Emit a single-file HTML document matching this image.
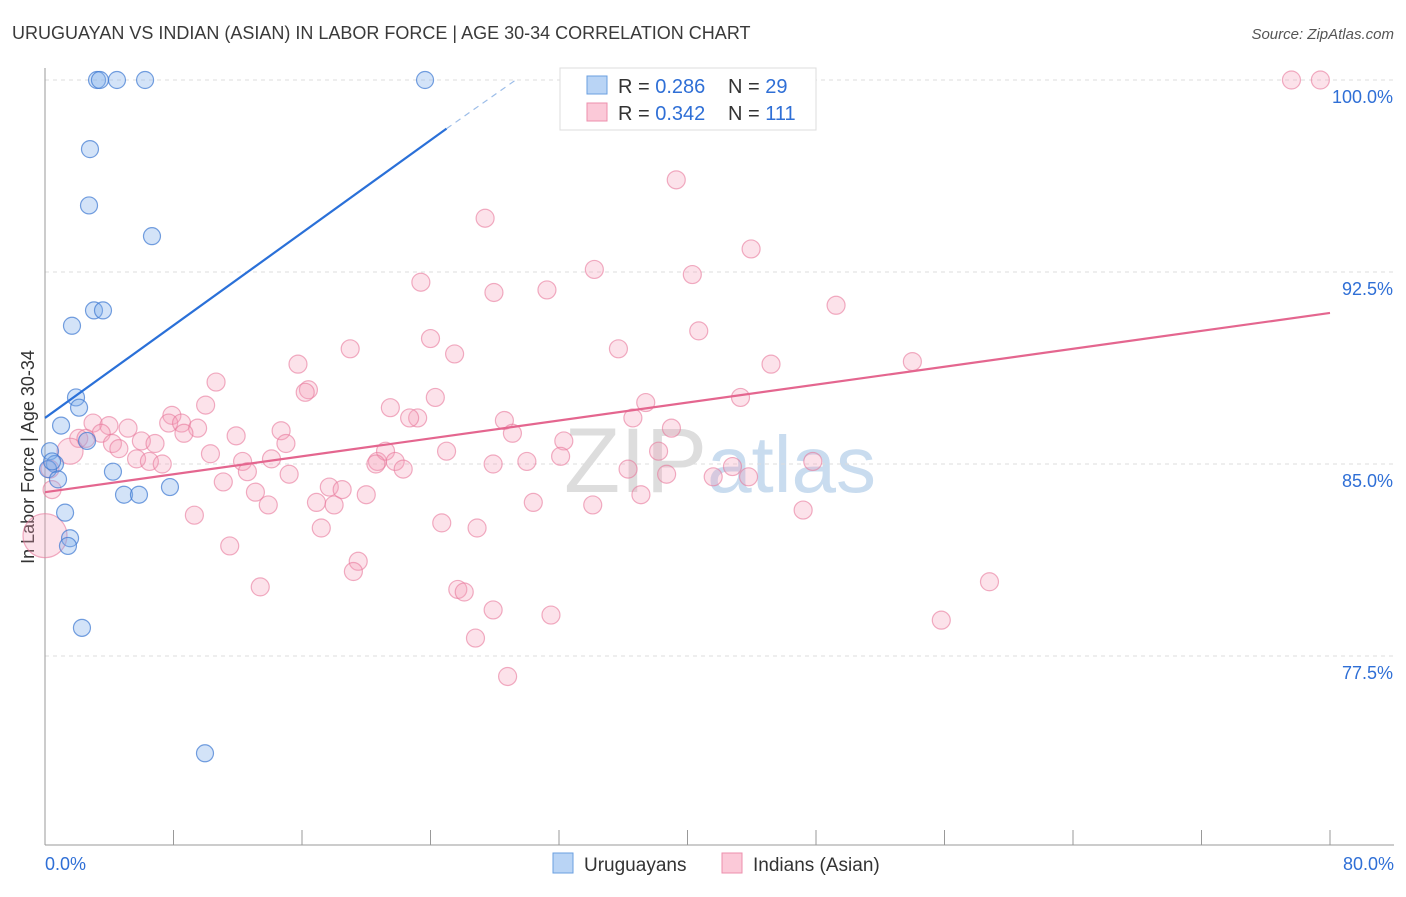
<!DOCTYPE html>
<html><head><meta charset="utf-8"><style>
body{margin:0;background:#fff;font-family:"Liberation Sans",sans-serif}
svg text{font-family:"Liberation Sans",sans-serif}
</style></head><body>
<svg id="c" width="1406" height="892" xmlns="http://www.w3.org/2000/svg">
<text x="12" y="39" font-size="18" fill="#3a3a3a">URUGUAYAN VS INDIAN (ASIAN) IN LABOR FORCE | AGE 30-34 CORRELATION CHART</text>
<text x="1394" y="39" font-size="15" fill="#555" text-anchor="end" font-style="italic">Source: ZipAtlas.com</text>
<text x="720" y="492" font-size="92" fill="#ddd" text-anchor="middle" font-family="Liberation Serif">ZIP<tspan fill="#c9dcef" font-family="Liberation Sans" font-size="80">atlas</tspan></text>
<text transform="translate(34,457) rotate(-90)" font-size="18" fill="#333" text-anchor="middle">In Labor Force | Age 30-34</text>
<g id="grid"></g><g id="axes"></g><g id="pink"></g><g id="blue"></g><g id="lines"></g>
<g>
<rect x="560" y="68" width="256" height="62" fill="#fff" stroke="#ddd"/>
<rect x="587" y="76" width="20" height="18" fill="#b9d4f5" stroke="#6a9fe0"/>
<rect x="587" y="103" width="20" height="18" fill="#fbc9d8" stroke="#ec8fad"/>
<text x="618" y="93" font-size="20" fill="#333">R = <tspan fill="#2f6fd6">0.286</tspan></text>
<text x="728" y="93" font-size="20" fill="#333">N = <tspan fill="#2f6fd6">29</tspan></text>
<text x="618" y="120" font-size="20" fill="#333">R = <tspan fill="#2f6fd6">0.342</tspan></text>
<text x="728" y="120" font-size="20" fill="#333">N = <tspan fill="#2f6fd6">111</tspan></text>
</g>
<g>
<rect x="553" y="853" width="20" height="20" fill="#b9d4f5" stroke="#6a9fe0"/>
<text x="584" y="871" font-size="19" fill="#333">Uruguayans</text>
<rect x="722" y="853" width="20" height="20" fill="#fbc9d8" stroke="#ec8fad"/>
<text x="753" y="871" font-size="19" fill="#333">Indians (Asian)</text>
</g>
</svg>
<script>
const xTicks=[0,8,16,24,32,40,48,56,64,72,80];
const yTicks=[77.5,85.0,92.5,100.0];
const blueX=[3.24,3.42,4.48,6.23,23.66,2.80,2.74,6.66,3.05,3.61,1.68,1.93,2.12,1.0,2.62,0.31,0.62,0.19,0.81,4.23,7.78,4.92,5.85,1.25,1.56,1.43,2.30,9.96,0.44];
const blueY=[100,100,100,100,100,97.3,95.1,93.9,91.0,91.0,90.4,87.6,87.2,86.5,85.9,85.5,85.0,84.8,84.4,84.7,84.1,83.8,83.8,83.1,82.1,81.8,78.6,73.7,85.1];
const pinkX=[77.6,79.4,46.9,39.3,27.4,43.96,34.2,40.3,23.4,27.95,31.25,49.25,40.7,24.0,19.0,25.5,35.7,15.75,45.2,54.0,10.65,16.4,16.2,24.3,43.3,10.0,37.4,21.5,7.9,23.2,22.7,28.6,36.6,2.99,3.98,5.17,7.7,8.5,9.5,14.7,39.0,29.1,2.1,3.5,8.65,11.9,1.56,2.55,6.0,6.85,4.2,4.6,15.0,32.3,10.3,25.0,38.2,32.1,5.7,6.5,12.3,14.1,20.7,21.2,21.8,30.0,7.3,20.6,22.3,27.9,47.8,42.8,12.6,15.2,36.3,38.7,41.6,43.8,11.1,17.7,18.5,13.1,20.0,16.9,37.1,30.4,13.9,18.0,34.1,47.2,9.3,24.7,17.2,26.9,11.5,19.5,19.2,13.4,25.7,26.1,58.8,27.9,31.5,55.8,26.8,28.8,0.31,0.44,0.0];
const pinkY=[100,100,100,96.1,94.6,93.4,92.6,92.4,92.1,91.7,91.8,91.2,90.2,89.9,89.5,89.3,89.5,88.9,88.9,89.0,88.2,87.9,87.8,87.6,87.6,87.3,87.4,87.2,86.9,86.8,86.8,86.7,86.8,86.6,86.5,86.4,86.6,86.6,86.4,86.3,86.4,86.2,86.0,86.2,86.2,86.1,85.5,86.0,85.9,85.8,85.8,85.6,85.8,85.9,85.4,85.5,85.5,85.3,85.2,85.1,85.1,85.2,85.1,85.5,85.1,85.1,85.0,85.0,84.8,85.0,85.1,84.9,84.7,84.6,84.8,84.6,84.5,84.5,84.3,84.1,84.0,83.9,83.8,83.5,83.8,83.5,83.4,83.4,83.4,83.2,83.0,82.7,82.5,82.5,81.8,81.2,80.8,80.2,80.1,80.0,80.4,79.3,79.1,78.9,78.2,76.7,84.8,84.0,82.2];
const pinkR=[];for(let i=0;i<pinkX.length;i++)pinkR.push(9);pinkR[46]=13;pinkR[108]=22;pinkR[109]=18;pinkR[110]=24;
const blueTrend=[0,86.8,25.0,98.1,29.3,100];
const pinkTrend=[0,83.9,80,90.9];
const X=v=>45+v/80*1285, Y=v=>80+(100-v)*25.6;
const NS="http://www.w3.org/2000/svg";
function mk(p,t,a){const e=document.createElementNS(NS,t);for(const k in a)e.setAttribute(k,a[k]);document.getElementById(p).appendChild(e);return e;}
yTicks.forEach(v=>{
 const l=mk('grid','line',{x1:45,x2:1394,y1:Y(v),y2:Y(v),stroke:'#ddd','stroke-dasharray':'4,4'});
 
 
 const t=mk('grid','text',{x:1393,y:Y(v)+23,'font-size':18,fill:'#2f6fd6','text-anchor':'end'});t.textContent=v.toFixed(1)+'%';
 
 
});
mk('axes','line',{x1:45,x2:45,y1:68,y2:845,stroke:'#999'});
mk('axes','line',{x1:45,x2:1394,y1:845,y2:845,stroke:'#999'});
xTicks.forEach(v=>{const l=mk('axes','line',{x1:X(v),x2:X(v),y1:830,y2:845,stroke:'#999'});
 
 });
[[0,'0.0%','start',45],[80,'80.0%','end',1394]].forEach(a=>{const t=mk('axes','text',{x:a[3],y:870,'font-size':18,fill:'#2f6fd6','text-anchor':a[2]});t.textContent=a[1];
 
 });
pinkX.forEach((v,i)=>{const c=mk('pink','circle',{cx:X(v),cy:Y(pinkY[i]),r:pinkR[i],fill:'rgba(244,160,186,0.3)',stroke:'rgba(232,120,155,0.6)','stroke-width':1.2});
 
 });
blueX.forEach((v,i)=>{const c=mk('blue','circle',{cx:X(v),cy:Y(blueY[i]),r:8.5,fill:'rgba(130,175,235,0.35)',stroke:'rgba(60,120,210,0.7)','stroke-width':1.2});
 
 });
const b1=mk('lines','line',{x1:X(blueTrend[0]),y1:Y(blueTrend[1]),x2:X(blueTrend[2]),y2:Y(blueTrend[3]),stroke:'#2a70d8','stroke-width':2.2});


const b2=mk('lines','line',{x1:X(blueTrend[2]),y1:Y(blueTrend[3]),x2:X(blueTrend[4]),y2:Y(blueTrend[5]),stroke:'#9bbce8','stroke-width':1.2,'stroke-dasharray':'6,5'});


const p1=mk('lines','line',{x1:X(pinkTrend[0]),y1:Y(pinkTrend[1]),x2:X(pinkTrend[2]),y2:Y(pinkTrend[3]),stroke:'#e4668f','stroke-width':2.2});


</script>
</body></html>
